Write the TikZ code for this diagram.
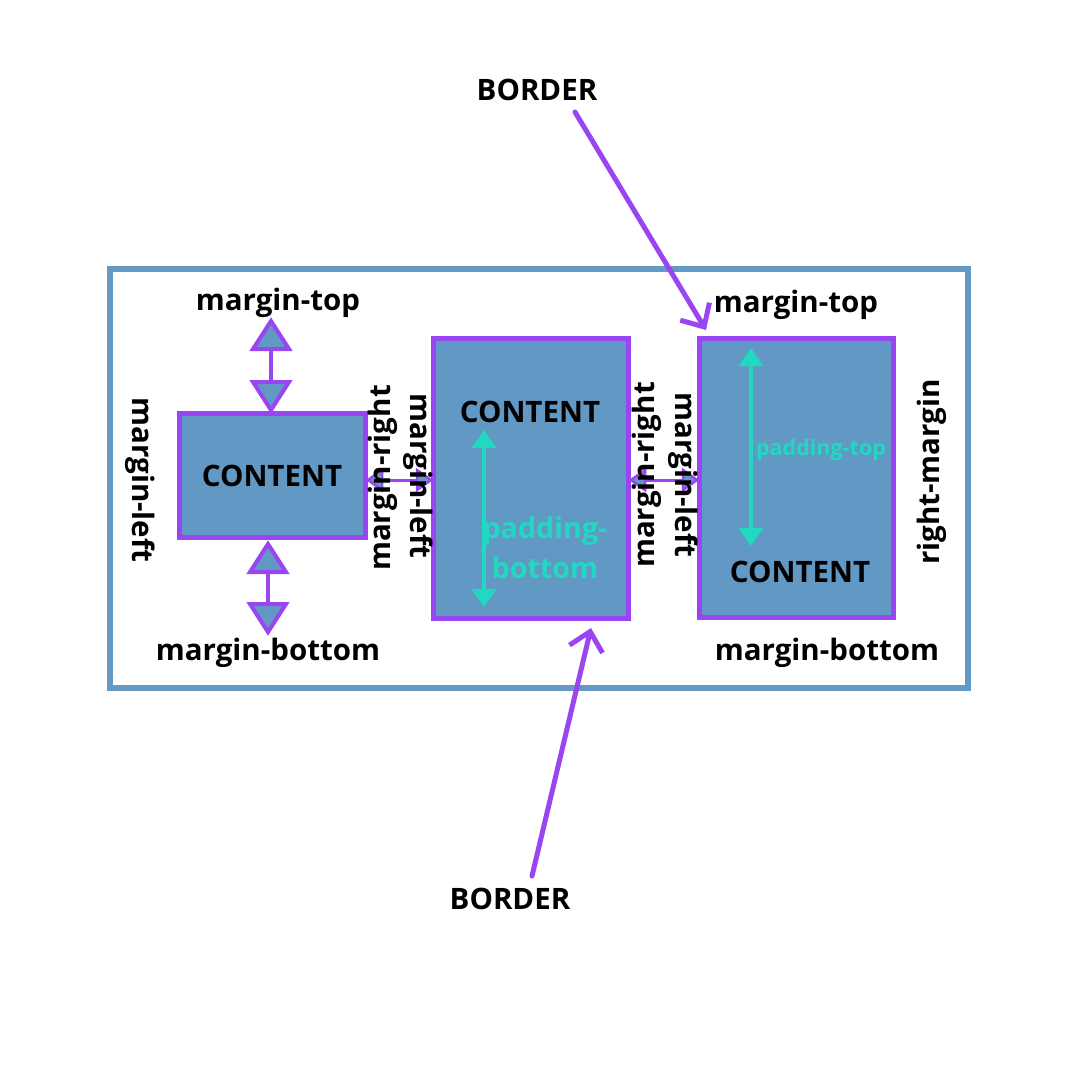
\documentclass[tikz,border=0pt]{standalone}
\usepackage{fontspec}
\setmainfont{Open Sans}
\usetikzlibrary{arrows.meta}
\definecolor{boxblue}{HTML}{6298C4}
\definecolor{outerblue}{HTML}{6499C4}
\definecolor{purp}{HTML}{9A45F2}
\definecolor{teal2}{HTML}{20D9C0}
\tikzset{
  cbox/.style={draw=purp, fill=boxblue, line width=5pt, inner sep=0pt},
  lbl/.style={font=\fontsize{29.5}{32}\selectfont\bfseries, text=black, inner sep=0pt},
  tri/.style={draw=purp, fill=boxblue, line width=4pt, line join=miter},
  shaft/.style={draw=purp, line width=4pt},
  pad/.style={draw=teal2, line width=3.5pt, {Triangle[length=18pt,width=24pt]}-{Triangle[length=18pt,width=24pt]}},
  pointer/.style={draw=purp, line width=5pt, line cap=round, -{Straight Barb[length=18pt,width=34pt,line width=5pt]}},
}
\begin{document}
\begin{tikzpicture}[x=1pt,y=-1pt]
\useasboundingbox (0,0) rectangle (1080,1080);
\fill[white] (0,0) rectangle (1080,1080);
% outer container
\draw[outerblue, line width=6pt] (110,269) rectangle (968,688);
% boxes
\node[cbox, minimum width=186pt, minimum height=124pt] (box1) at (272,475) {};
\node[cbox, minimum width=195pt, minimum height=280pt] (box2) at (530.5,478) {};
\node[cbox, minimum width=194pt, minimum height=279pt] (box3) at (796,477.5) {};
\node[lbl] (c1) at (272,476) {CONTENT};
\node[lbl] (c2) at (530,412) {CONTENT};
\node[lbl] (c3) at (800,572) {CONTENT};
% margin-top arrow box1
\draw[shaft] (271,349) -- (271,382);
\draw[tri] (271,321) -- (289,349) -- (253,349) -- cycle;
\draw[tri] (253,382) -- (289,382) -- (271,410) -- cycle;
% margin-bottom arrow box1
\draw[shaft] (268,572) -- (268,604);
\draw[tri] (268,544) -- (286,572) -- (250,572) -- cycle;
\draw[tri] (250,604) -- (286,604) -- (268,632) -- cycle;
% horizontal small arrows
\coordinate (h1a) at (368,480);
\coordinate (h1b) at (431,480);
\draw[shaft, line width=3pt] (h1a) -- (h1b);
\draw[tri, line width=2.5pt] (h1a) -- (382,470) -- (382,490) -- cycle;
\draw[tri, line width=2.5pt] (h1b) -- (417,470) -- (417,490) -- cycle;
\coordinate (h2a) at (631,480);
\coordinate (h2b) at (697,480);
\draw[shaft, line width=3pt] (h2a) -- (h2b);
\draw[tri, line width=2.5pt] (h2a) -- (645,470) -- (645,490) -- cycle;
\draw[tri, line width=2.5pt] (h2b) -- (683,470) -- (683,490) -- cycle;
% padding arrows
\coordinate (p1a) at (484,430);
\coordinate (p1b) at (484,607);
\draw[pad] (p1a) -- (p1b);
\coordinate (p2a) at (751,348);
\coordinate (p2b) at (751,546);
\draw[pad] (p2a) -- (p2b);
% labels
\node[lbl] (bt) at (537,90) {BORDER};
\node[lbl] (bb) at (510,899) {BORDER};
\node[lbl] (mt1) at (278,303) {margin-top};
\node[lbl] (mb1) at (268,653) {margin-bottom};
\node[lbl] (mt3) at (796,305) {margin-top};
\node[lbl] (mb3) at (827,653) {margin-bottom};
\node[lbl, rotate=-90] (ml0) at (140,480) {margin-left};
\node[lbl, rotate=90] (mr1) at (383,478) {margin-right};
\node[lbl, rotate=-90] (ml2) at (418,476) {margin-left};
\node[lbl, rotate=90] (mr2) at (647,475) {margin-right};
\node[lbl, rotate=-90] (ml3) at (683,475) {margin-left};
\node[lbl, rotate=90] (rm) at (932,472) {right-margin};
\node[lbl, text=teal2, font=\fontsize{21.5}{24}\selectfont\bfseries] (pt) at (821,450) {padding-top};
\node[lbl, text=teal2, align=center, font=\fontsize{28.7}{40}\selectfont\bfseries] (pb) at (545,548) {padding-\\bottom};
% border pointers
\coordinate (bts) at (575,112);
\coordinate (bte) at (706,330);
\draw[pointer] (bts) -- (bte);
\coordinate (bbs) at (532,876);
\coordinate (bbe) at (591,628);
\draw[pointer] (bbs) -- (bbe);
\end{tikzpicture}
\end{document}
